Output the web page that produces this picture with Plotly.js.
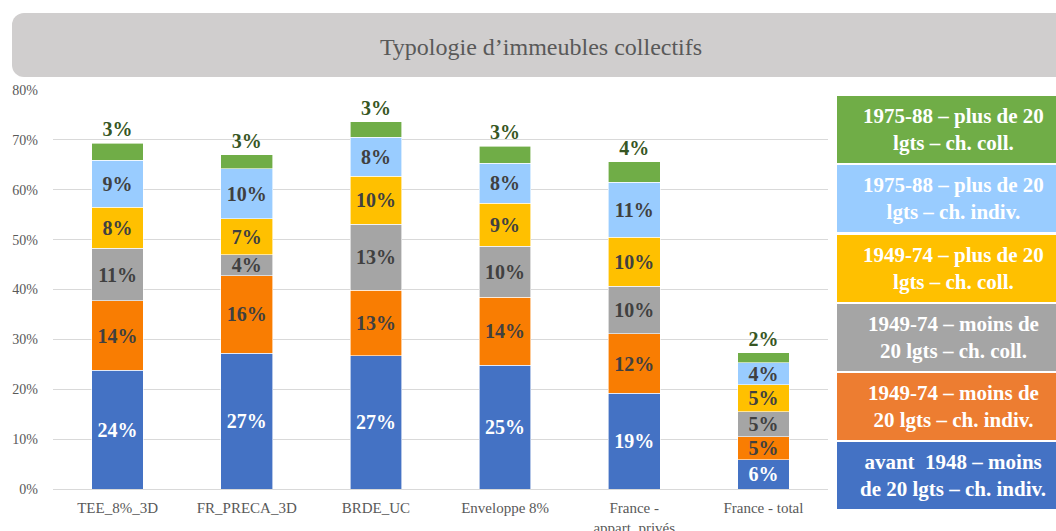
<!DOCTYPE html>
<html>
<head>
<meta charset="utf-8">
<script src="https://cdn.plot.ly/plotly-3.0.1.min.js"></script>
<style>
  html, body { margin: 0; padding: 0; background: #ffffff; }
  #wrap { position: relative; width: 1056px; height: 531px; overflow: hidden; }
  #banner { position: absolute; left: 12px; top: 13px; width: 1080px; height: 64px;
            background: #D0CECE; border-radius: 12px; z-index: 0; }
  #chart { position: absolute; left: 0; top: 0; width: 1056px; height: 531px; z-index: 1; }
</style>
</head>
<body>
<div id="wrap">
  <div id="banner"></div>
  <div id="chart"></div>
</div>
<script>
// ---- data ----
const categories = ["TEE_8%_3D", "FR_PRECA_3D", "BRDE_UC", "Enveloppe 8%", "France -<br>appart. privés", "France - total"];

const avant1948Moins20Indiv   = [23.8, 27.2, 26.7, 24.8, 19.2, 5.9];
const p4974Moins20Indiv       = [13.9, 15.6, 13.2, 13.6, 11.9, 4.6];
const p4974Moins20Coll        = [10.6, 4.2, 13.2, 10.3, 9.6, 5.0];
const p4974Plus20Coll         = [8.2, 7.2, 9.6, 8.6, 9.8, 5.4];
const p7588Plus20Indiv        = [9.4, 10.0, 7.8, 8.0, 11.0, 4.4];
const p7588Plus20Coll         = [3.4, 2.8, 3.1, 3.4, 4.1, 2.0];

const seriesNames = [
  "avant  1948 – moins<br>de 20 lgts – ch. indiv.",
  "1949-74 – moins de<br>20 lgts – ch. indiv.",
  "1949-74 – moins de<br>20 lgts – ch. coll.",
  "1949-74 – plus de 20<br>lgts – ch. coll.",
  "1975-88 – plus de 20<br>lgts – ch. indiv.",
  "1975-88 – plus de 20<br>lgts – ch. coll."
];
const yTickVals = [0, 10, 20, 30, 40, 50, 60, 70, 80];
const titleText = "Typologie d’immeubles collectifs";

// ---- styles ----
const seriesValues = [avant1948Moins20Indiv, p4974Moins20Indiv, p4974Moins20Coll, p4974Plus20Coll, p7588Plus20Indiv, p7588Plus20Coll];
const barColors    = ["#4472C4", "#F97D02", "#A5A5A5", "#FFC000", "#99CCFF", "#70AD47"];
const legendColors = ["#4472C4", "#ED7D31", "#A5A5A5", "#FFC000", "#99CCFF", "#70AD47"];
const textColors   = ["#FFFFFF", "#404040", "#404040", "#404040", "#404040", "#375623"];
const serif = "Liberation Serif";

const traces = seriesValues.map((vals, i) => ({
  type: "bar",
  x: categories,
  y: vals,
  name: seriesNames[i],
  marker: { color: barColors[i], line: { color: "#FFFFFF", width: 0.6 } },
  texttemplate: "%{y:.0f}%",
  textposition: i === seriesValues.length - 1 ? "outside" : "inside",
  insidetextanchor: "middle",
  constraintext: "none",
  cliponaxis: false,
  textfont: { family: serif, size: 20, color: textColors[i], weight: "bold" },
  hoverinfo: "skip"
}));

// plot area in pixels
const W = 1056, H = 531;
const L = 53, R = 828, T = 90, B = 489;
const px2x = p => (p - L) / (R - L);
const py2y = p => (B - p) / (B - T);

// legend boxes (top to bottom: last series first)
const boxTops = [96, 165, 235, 304, 373, 442];
const boxH = 67;
const boxL = 837, boxR = 1060;
const shapes = [];
const annotations = [];
for (let k = 0; k < 6; k++) {
  const si = 5 - k;
  const top = boxTops[k], bot = top + boxH;
  shapes.push({
    type: "rect", xref: "paper", yref: "paper",
    x0: px2x(boxL), x1: px2x(boxR), y0: py2y(bot), y1: py2y(top),
    fillcolor: legendColors[si], line: { width: 0 }, layer: "above"
  });
  annotations.push({
    xref: "paper", yref: "paper",
    x: px2x(953), y: py2y(top + boxH / 2),
    xanchor: "center", yanchor: "middle",
    text: "<b>" + seriesNames[si] + "</b>",
    showarrow: false, align: "center",
    font: { family: serif, size: 21, color: "#FFFFFF" }
  });
}

const layout = {
  width: W, height: H,
  margin: { l: L, r: W - R, t: T, b: H - B, pad: 0 },
  paper_bgcolor: "rgba(0,0,0,0)",
  plot_bgcolor: "rgba(0,0,0,0)",
  barmode: "stack",
  bargap: 0.6,
  showlegend: false,
  font: { family: serif, color: "#595959" },
  title: {
    text: titleText,
    xref: "container", yref: "container",
    x: 541 / W, y: 1 - 47 / H, xanchor: "center", yanchor: "middle",
    font: { family: serif, size: 24, color: "#595959" }
  },
  xaxis: {
    type: "category",
    showgrid: false,
    showline: true, linecolor: "#D9D9D9", linewidth: 1,
    ticks: "", ticklabelstandoff: 5,
    tickfont: { family: serif, size: 15, color: "#595959" },
    fixedrange: true
  },
  yaxis: {
    range: [0, 80],
    tickvals: yTickVals,
    ticktext: yTickVals.map(v => v + "%"),
    showgrid: true, gridcolor: "#D9D9D9", gridwidth: 1,
    zeroline: false, showline: false,
    ticks: "", ticklabelstandoff: 14,
    tickfont: { family: serif, size: 14, color: "#595959" },
    fixedrange: true
  },
  shapes: shapes,
  annotations: annotations
};

Plotly.newPlot("chart", traces, layout, { staticPlot: true, displayModeBar: false });
</script>
</body>
</html>
